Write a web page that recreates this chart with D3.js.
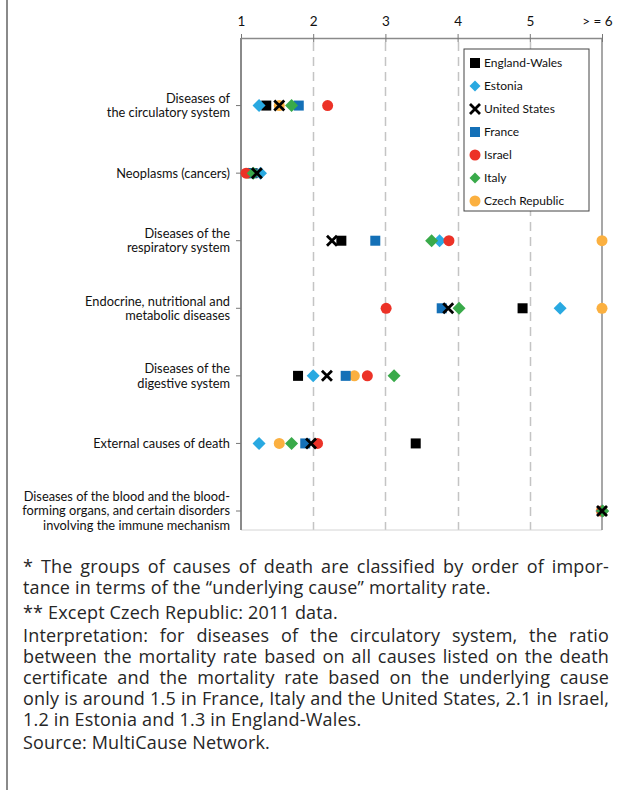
<!DOCTYPE html>
<meta charset="utf-8">
<style>
    body { margin: 0; background: #fff; font-family: Lato, "Liberation Sans", sans-serif; }
    #page { position: relative; width: 619px; height: 790px; overflow: hidden; }
    #page svg { position: absolute; left: 0; top: 0; }
    .note { position: absolute; left: 23px; width: 586px; font-family: "Open Sans", sans-serif; font-size: 18px; line-height: 21px; color: #262626; white-space: nowrap; }
    .note.just { text-align: justify; text-align-last: justify; white-space: normal; }
    #measure { position: absolute; visibility: hidden; white-space: nowrap; font-family: "Open Sans", sans-serif; font-size: 18px; }
</style>

<script src="https://d3js.org/d3.v7.min.js"></script>

<div id="page"><svg id="chart" width="619" height="790"></svg></div>
<span id="measure"></span>

<script>

// =============================================================================
// Ratio of mortality rates (all causes listed / underlying cause), by cause
// =============================================================================

var causes = [
    ["Diseases of", "the circulatory system"],
    ["Neoplasms (cancers)"],
    ["Diseases of the", "respiratory system"],
    ["Endocrine, nutritional and", "metabolic diseases"],
    ["Diseases of the", "digestive system"],
    ["External causes of death"],
    ["Diseases of the blood and the blood-", "forming organs, and certain disorders", "involving the immune mechanism"]
];

var xTicks      = [1, 2, 3, 4, 5, 6];
var xTickLabels = ["1", "2", "3", "4", "5", "> = 6"];

// one value per cause, same order as 'causes'
var englandWales  = [1.35, 1.16, 2.39, 4.90, 1.79, 3.42, 6];
var estonia       = [1.25, 1.27, 3.75, 5.42, 2.00, 1.25, 6];
var unitedStates  = [1.53, 1.22, 2.26, 3.87, 2.19, 1.97, 6];
var france        = [1.80, 1.15, 2.86, 3.78, 2.45, 1.89, 6];
var israel        = [2.20, 1.07, 3.88, 3.01, 2.75, 2.06, 6];
var italy         = [1.70, 1.17, 3.64, 4.02, 3.12, 1.70, 6.01];
var czechRepublic = [1.53, 1.10, 6,    6,    2.57, 1.53, 5.99];

var seriesNames = ["England-Wales", "Estonia", "United States", "France", "Israel", "Italy", "Czech Republic"];

var notes = [
    { text: "* The groups of causes of death are classified by order of impor-", top: 556, just: true },
    { text: "tance in terms of the \u201cunderlying cause\u201d mortality rate.", top: 577 },
    { text: "** Except Czech Republic: 2011 data.", top: 602 },
    { text: "Interpretation: for diseases of the circulatory system, the ratio", top: 625, just: true },
    { text: "between the mortality rate based on all causes listed on the death", top: 646, just: true },
    { text: "certificate and the mortality rate based on the underlying cause", top: 667, just: true },
    { text: "only is around 1.5 in France, Italy and the United States, 2.1 in Israel,", top: 688, just: true },
    { text: "1.2 in Estonia and 1.3 in England-Wales.", top: 709 },
    { text: "Source: MultiCause Network.", top: 732 }
];


// Setup

var svg = d3.select("svg#chart");

var plotLeft = 241, plotRight = 602, plotTop = 38, plotBottom = 530;

var x = d3.scaleLinear().domain([1, 6]).range([plotLeft, plotRight]);
var y = d3.scaleLinear().domain([0, 7]).range([plotTop, 511]);

var series = [
    { name: "England-Wales",  values: englandWales,  shape: "square",  color: "#000000" },
    { name: "Estonia",        values: estonia,       shape: "diamond", color: "#29a9e1" },
    { name: "United States",  values: unitedStates,  shape: "cross",   color: "#000000" },
    { name: "France",         values: france,        shape: "square",  color: "#1470b7" },
    { name: "Israel",         values: israel,        shape: "circle",  color: "#ec3227" },
    { name: "Italy",          values: italy,         shape: "diamond", color: "#39aa4a" },
    { name: "Czech Republic", values: czechRepublic, shape: "circle",  color: "#fbb040" }
];

// page border on the left
svg.append("line")
    .attr("x1", 7).attr("x2", 7).attr("y1", 0).attr("y2", 790)
    .attr("stroke", "#8a8a8a").attr("stroke-width", 2);


// Grid and frame

var grid = svg.append("g");

grid.selectAll("line.grid")
    .data([2, 3, 4, 5])
    .enter().append("line")
    .attr("class", "grid")
    .attr("x1", function(d) { return Math.round(x(d)) + 0.5; })
    .attr("x2", function(d) { return Math.round(x(d)) + 0.5; })
    .attr("y1", plotTop + 4).attr("y2", plotBottom)
    .attr("stroke", "#c4c4c4").attr("stroke-width", 1.5)
    .attr("stroke-dasharray", "9,6");

svg.append("line")   // bottom
    .attr("x1", plotLeft).attr("x2", plotRight).attr("y1", plotBottom).attr("y2", plotBottom)
    .attr("stroke", "#d4d4d4").attr("stroke-width", 1);

svg.append("line")   // right
    .attr("x1", plotRight).attr("x2", plotRight).attr("y1", plotTop).attr("y2", plotBottom)
    .attr("stroke", "#8a8a8a").attr("stroke-width", 1.5);

// top axis
var xAxis = d3.axisTop(x)
    .tickValues(xTicks)
    .tickFormat(function(d, i) { return xTickLabels[i]; })
    .tickSizeInner(4).tickSizeOuter(0).tickPadding(8);

var gx = svg.append("g")
    .attr("transform", "translate(0," + plotTop + ")")
    .call(xAxis);

gx.select(".domain").attr("stroke", "#8a8a8a").attr("stroke-width", 1.5);
gx.selectAll(".tick line").attr("stroke", "#777").attr("y2", 4).attr("y1", -4);
gx.selectAll(".tick text")
    .attr("font-family", "Lato, sans-serif").attr("font-size", 13.5).attr("fill", "#111")
    .attr("dx", function(d) { return d === 6 ? -5 : 0; });

// left axis with category labels
svg.append("line")
    .attr("x1", plotLeft).attr("x2", plotLeft).attr("y1", plotTop).attr("y2", plotBottom)
    .attr("stroke", "#8a8a8a").attr("stroke-width", 2);

var cat = svg.append("g").selectAll("g.cat")
    .data(causes)
    .enter().append("g")
    .attr("class", "cat")
    .attr("transform", function(d, i) { return "translate(0," + y(i + 1) + ")"; });

cat.append("line")
    .attr("x1", plotLeft - 5).attr("x2", plotLeft)
    .attr("stroke", "#777").attr("stroke-width", 1);

cat.append("text")
    .attr("text-anchor", "end")
    .attr("font-family", "Lato, sans-serif").attr("font-size", 12.8).attr("fill", "#111")
    .selectAll("tspan")
    .data(function(d) { return d; })
    .enter().append("tspan")
    .attr("x", 230)
    .attr("y", function(d, i, nodes) { return (i - (nodes.length - 1) / 2) * 14.4; })
    .attr("dy", "0.35em")
    .text(function(d) { return d; });


// Markers

var drawMarker = function (sel, shape, color) {
    if (shape === "square") {
        sel.append("rect").attr("x", -5).attr("y", -5).attr("width", 10).attr("height", 10).attr("fill", color);
    } else if (shape === "diamond") {
        sel.append("path").attr("d", "M0,-6.5L6.5,0L0,6.5L-6.5,0Z").attr("fill", color);
    } else if (shape === "circle") {
        sel.append("circle").attr("r", 5.5).attr("fill", color);
    } else {
        sel.append("path").attr("d", "M-5,-5L5,5M-5,5L5,-5")
            .attr("stroke", color).attr("stroke-width", 2.8).attr("fill", "none");
    }
};

// drawing order so that overlaps come out like the original
var drawOrder = ["Czech Republic", "England-Wales", "Estonia", "France", "Israel", "Italy", "United States"];

drawOrder.forEach(function (name) {
    var s = series.find(function (d) { return d.name === name; });
    var g = svg.append("g").selectAll("g.pt")
        .data(s.values)
        .enter().append("g")
        .attr("class", "pt")
        .attr("transform", function(d, i) { return "translate(" + x(d) + "," + y(i + 1) + ")"; });
    drawMarker(g, s.shape, s.color);
});


// Legend

var legend = svg.append("g").attr("transform", "translate(464,49)");

legend.append("rect")
    .attr("width", 125).attr("height", 162)
    .attr("fill", "#fff").attr("stroke", "#444").attr("stroke-width", 1);

var item = legend.selectAll("g.item")
    .data(seriesNames)
    .enter().append("g")
    .attr("class", "item")
    .attr("transform", function(d, i) { return "translate(11," + (14 + i * 23) + ")"; });

item.each(function (name) {
    var s = series.find(function (d) { return d.name === name; });
    var g = d3.select(this);
    drawMarker(g, s.shape, s.color);
    if (s.shape === "diamond") g.select("path").attr("transform", "scale(0.85)");
});

item.append("text")
    .attr("x", 9).attr("dy", "0.35em")
    .attr("font-family", "Lato, sans-serif").attr("font-size", 12).attr("fill", "#111")
    .text(function(d) { return d; });


// Footnotes
// letter-spacing chosen so the tight "only is around..." line fills the text block, as in the original

var tightLine = notes[6].text;
var probe = document.getElementById("measure");
probe.textContent = tightLine;
var spacing = Math.max(0, (584 - probe.getBoundingClientRect().width) / tightLine.length);

d3.select("#page").selectAll("div.note")
    .data(notes)
    .enter().append("div")
    .attr("class", function(d) { return d.just ? "note just" : "note"; })
    .style("top", function(d) { return d.top + "px"; })
    .style("letter-spacing", spacing + "px")
    .text(function(d) { return d.text; });

</script>
